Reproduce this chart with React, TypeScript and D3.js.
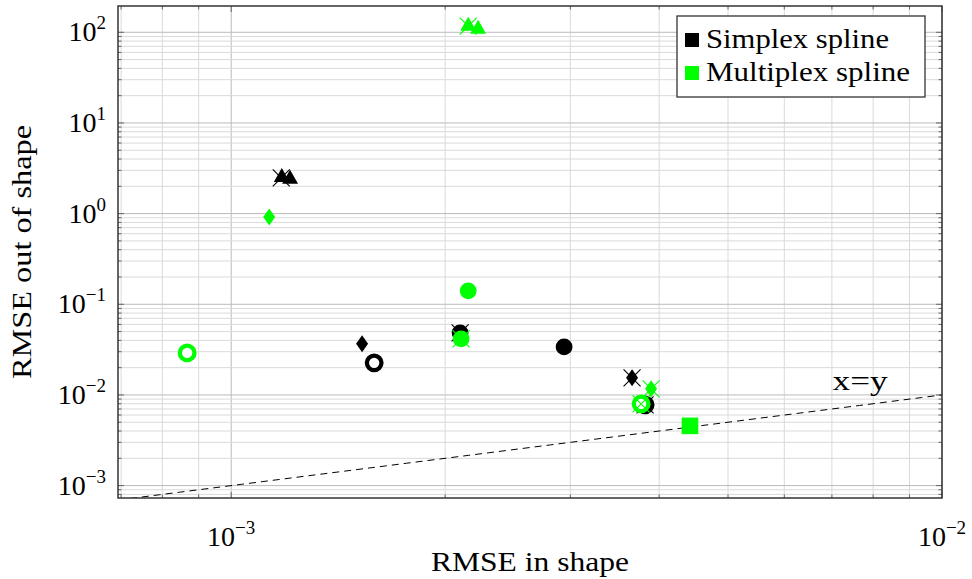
import React from 'react';
import * as d3 from 'd3';

// values (log-log axes)
const xDomain = [6.93e-4, 1e-2];
const yDomain = [7.3e-4, 195];
const xMajorTicks = [1e-3, 1e-2];
const yMajorTicks = [1e-3, 1e-2, 1e-1, 1, 10, 100];

const seriesNames = ['Simplex spline', 'Multiplex spline'];
const seriesColors = ['#000000', '#00ff00'];

// [x, y, marker]
const simplexPoints = [
  [1.178e-3, 2.52, 'triangle'],
  [1.21e-3, 2.41, 'triangle'],
  [1.528e-3, 0.0366, 'diamond'],
  [1.589e-3, 0.0226, 'ring'],
  [2.099e-3, 0.0484, 'circle'],
  [2.94e-3, 0.0339, 'circle'],
  [3.664e-3, 0.01543, 'diamond'],
  [3.822e-3, 0.00778, 'ring'],
];
const simplexCrosses = [
  [1.176e-3, 2.48],
  [2.099e-3, 0.0484],
  [3.664e-3, 0.01543],
  [3.822e-3, 0.00778],
];

const multiplexPoints = [
  [8.67e-4, 0.0291, 'ring'],
  [1.131e-3, 0.92, 'diamond'],
  [2.155e-3, 117, 'triangle'],
  [2.225e-3, 108.7, 'triangle'],
  [2.106e-3, 0.0415, 'circle'],
  [2.155e-3, 0.1406, 'circle'],
  [3.897e-3, 0.01168, 'diamond'],
  [3.773e-3, 0.00798, 'ring'],
  [4.42e-3, 0.00456, 'square'],
];
const multiplexCrosses = [
  [2.155e-3, 117],
  [2.106e-3, 0.0415],
  [3.897e-3, 0.01168],
  [3.773e-3, 0.00798],
];

const W = 972;
const H = 579;
const margin = { left: 118, right: 30, top: 6, bottom: 81 };
const serifFont = 'Liberation Serif';

const expLabel = (v: number) => {
  const e = Math.round(Math.log10(v));
  return e < 0 ? '\u2212' + Math.abs(e) : String(e);
};

function minorTicks(domain: number[]) {
  const out: { v: number; major: boolean }[] = [];
  const lo = Math.floor(Math.log10(domain[0]));
  const hi = Math.ceil(Math.log10(domain[1]));
  for (let e = lo; e <= hi; e++) {
    for (let k = 1; k <= 9; k++) {
      const v = k * Math.pow(10, e);
      if (v >= domain[0] && v <= domain[1]) out.push({ v, major: k === 1 });
    }
  }
  return out;
}

function Marker({ kind, color }: { kind: string; color: string }) {
  if (kind === 'triangle') {
    return <path d="M0,-9.3L8,4.7L-8,4.7Z" fill={color} />;
  }
  if (kind === 'diamond') {
    return <path d="M0,-8.5L6,0L0,8.5L-6,0Z" fill={color} />;
  }
  if (kind === 'circle') {
    return <circle r={8.4} fill={color} />;
  }
  if (kind === 'ring') {
    return <circle r={7.3} fill="#fff" stroke={color} strokeWidth={4.3} />;
  }
  if (kind === 'square') {
    return <rect x={-8.3} y={-8.3} width={16.6} height={16.6} fill={color} />;
  }
  return null;
}

function Cross({ color }: { color: string }) {
  return <path d="M-8.5,-8.5L8.5,8.5M-8.5,8.5L8.5,-8.5" stroke={color} strokeWidth={1.1} fill="none" />;
}

export default function App() {
  const x = d3.scaleLog().domain(xDomain).range([margin.left, W - margin.right]);
  const y = d3.scaleLog().domain(yDomain).range([H - margin.bottom, margin.top]);
  const [x0, x1] = x.range();
  const [y0, y1] = y.range();

  const xGrid = minorTicks(xDomain);
  const yGrid = minorTicks(yDomain);

  const diag = d3.range(0, 41).map(i => {
    const v = xDomain[0] * Math.pow(xDomain[1] / xDomain[0], i / 40);
    return [v, v];
  });
  const diagLine = d3.line<number[]>().x(d => x(d[0])).y(d => y(d[1]));

  const series = [
    { pts: simplexPoints, crosses: simplexCrosses, color: seriesColors[0] },
    { pts: multiplexPoints, crosses: multiplexCrosses, color: seriesColors[1] },
  ];

  const legendWidths = [183, 204];
  const tf = { fontFamily: `'${serifFont}', monospace` };

  return (
    <svg width={W} height={H} style={{ position: 'absolute', left: 0, top: 0, background: '#fff' }}>
      <defs>
        <clipPath id="plotClip">
          <rect x={x0} y={y1} width={x1 - x0} height={y0 - y1} />
        </clipPath>
      </defs>

      {/* grid */}
      {xGrid.map((t, i) => (
        <line key={'gx' + i} x1={x(t.v)} x2={x(t.v)} y1={y1} y2={y0}
          stroke={t.major ? '#bababa' : '#dadada'} strokeWidth={1} />
      ))}
      {yGrid.map((t, i) => (
        <line key={'gy' + i} x1={x0} x2={x1} y1={y(t.v)} y2={y(t.v)}
          stroke={t.major ? '#bababa' : '#dadada'} strokeWidth={1} />
      ))}

      {/* ticks, inward on all sides */}
      {xGrid.map((t, i) => {
        const len = t.major ? 6 : 3.5;
        return (
          <g key={'tx' + i} stroke="#666" strokeWidth={1}>
            <line x1={x(t.v)} x2={x(t.v)} y1={y0} y2={y0 - len} />
            <line x1={x(t.v)} x2={x(t.v)} y1={y1} y2={y1 + len} />
          </g>
        );
      })}
      {yGrid.map((t, i) => {
        const len = t.major ? 6 : 3.5;
        return (
          <g key={'ty' + i} stroke="#666" strokeWidth={1}>
            <line x1={x0} x2={x0 + len} y1={y(t.v)} y2={y(t.v)} />
            <line x1={x1} x2={x1 - len} y1={y(t.v)} y2={y(t.v)} />
          </g>
        );
      })}

      {/* x = y reference */}
      <g clipPath="url(#plotClip)">
        <path d={diagLine(diag) || ''} fill="none" stroke="#000" strokeWidth={1} strokeDasharray="7,5" />
      </g>

      {/* markers */}
      {series.map((s, si) => (
        <g key={'s' + si}>
          {s.pts.map((p, i) => (
            <g key={i} transform={`translate(${x(p[0] as number)},${y(p[1] as number)})`}>
              <Marker kind={p[2] as string} color={s.color} />
            </g>
          ))}
          {s.crosses.map((p, i) => (
            <g key={'c' + i} transform={`translate(${x(p[0])},${y(p[1])})`}>
              <Cross color={s.color} />
            </g>
          ))}
        </g>
      ))}

      {/* frame */}
      <rect x={x0} y={y1} width={x1 - x0} height={y0 - y1} fill="none" stroke="#333" strokeWidth={1.5} />

      <text x={x(7.67e-3)} y={y(1.14e-2)} fontSize={27} textAnchor="middle" style={tf}
        textLength={55} lengthAdjust="spacingAndGlyphs">x=y</text>

      {/* tick labels */}
      {xMajorTicks.map((t, i) => (
        <text key={'lx' + i} x={x(t)} y={546} fontSize={28} textAnchor="middle" style={tf}>
          10<tspan fontSize={19} dy={-12}>{expLabel(t)}</tspan>
        </text>
      ))}
      {yMajorTicks.map((t, i) => (
        <text key={'ly' + i} x={106} y={y(t) + 9} fontSize={28} textAnchor="end" style={tf}>
          10<tspan fontSize={19} dy={-12}>{expLabel(t)}</tspan>
        </text>
      ))}

      {/* axis titles */}
      <text x={(x0 + x1) / 2} y={571} fontSize={27} textAnchor="middle" style={tf}
        textLength={198} lengthAdjust="spacingAndGlyphs">RMSE in shape</text>
      <text transform={`translate(31,${(y0 + y1) / 2}) rotate(-90)`} fontSize={27} textAnchor="middle" style={tf}
        textLength={254} lengthAdjust="spacingAndGlyphs">RMSE out of shape</text>

      {/* legend */}
      <rect x={677} y={16} width={248} height={81} fill="#fff" stroke="#333" strokeWidth={1.3} />
      {seriesNames.map((name, i) => (
        <g key={name} transform={`translate(685,${33 + i * 33})`}>
          <rect x={0} y={0} width={14} height={14} fill={seriesColors[i]} />
          <text x={21} y={15} fontSize={27} style={tf}
            textLength={legendWidths[i]} lengthAdjust="spacingAndGlyphs">{name}</text>
        </g>
      ))}
    </svg>
  );
}
